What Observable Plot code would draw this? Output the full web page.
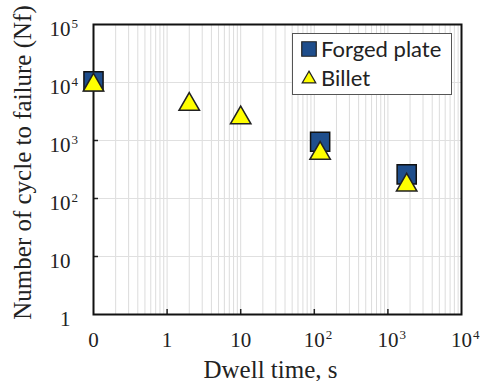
<!DOCTYPE html>
<html>
<head>
<meta charset="utf-8">
<script src="https://cdn.jsdelivr.net/npm/d3@7"></script>
<script src="https://cdn.jsdelivr.net/npm/@observablehq/plot@0.6"></script>
<style>
  html, body { margin: 0; padding: 0; background: white; }
  #wrap { position: relative; width: 481px; height: 381px; }
  #legend { position: absolute; left: 292px; top: 33px; width: 158px; height: 60px;
    border: 1.5px solid #555; background: white; font-family: Lato, "Open Sans", sans-serif; }
</style>
</head>
<body>
<div id="wrap"></div>
<script>
// Dwell time "0" is placed at 0.1 on the log axis (labelled "0")
const forgedDwell = [0.1, 120, 1800];
const forgedNf = [10500, 950, 260];
const billetDwell = [0.1, 2, 10, 120, 1800];
const billetNf = [9000, 4200, 2450, 600, 170];

const seriesNames = ["Forged plate", "Billet"];
const xTickValues = [0.1, 1, 10, 100, 1000, 10000];
const xTickLabels = ["0", "1", "10", "10^2", "10^3", "10^4"];
const yTickValues = [1, 10, 100, 1000, 10000, 100000];
const yTickLabels = ["1", "10", "10^2", "10^3", "10^4", "10^5"];
const xTitle = "Dwell time, s";
const yTitle = "Number of cycle to failure (Nf)";

const forged = forgedDwell.map((d, i) => ({dwell: d, nf: forgedNf[i]}));
const billet = billetDwell.map((d, i) => ({dwell: d, nf: billetNf[i]}));

// grid positions: every 1..9 multiple within each decade
const xGrid = xTickValues.slice(0, -1).flatMap(d => d3.range(1, 10).map(k => k * d)).concat([10000]);
const yGrid = yTickValues.slice(1, -1);
const xInner = xTickValues.slice(1, -1);
const yInner = yTickValues.slice(1, -1);

const chart = Plot.plot({
  width: 481, height: 381,
  marginLeft: 93, marginRight: 20, marginTop: 24, marginBottom: 67,
  style: {fontFamily: "'Liberation Serif', 'Times New Roman', serif", fontSize: "21px", color: "#222", background: "white", overflow: "visible"},
  x: {type: "log", domain: [0.1, 10000]},
  y: {type: "log", domain: [1, 100000]},
  marks: [
    Plot.ruleX(xGrid, {stroke: "#dcdcdc", strokeWidth: 1}),
    Plot.ruleY(yGrid, {stroke: "#e0e0e0", strokeWidth: 1}),
    Plot.ruleX(xInner, {stroke: "#222", strokeWidth: 1.5, insetTop: 285}),
    Plot.ruleY(yInner, {stroke: "#222", strokeWidth: 1.5, insetRight: 363}),
    Plot.frame({stroke: "#111", strokeWidth: 2}),
    Plot.axisX({ticks: xTickValues, tickFormat: d => xTickLabels[xTickValues.indexOf(d)], tickSize: 0, tickPadding: 18, label: null}),
    Plot.axisY({ticks: yTickValues, tickFormat: d => yTickLabels[yTickValues.indexOf(d)], tickSize: 0, tickPadding: 23, dy: 5, label: null}),
    Plot.dot(forged, {x: "dwell", y: "nf", symbol: "square", r: 10.8, fill: "#1f4e8c", stroke: "#111", strokeWidth: 1.5}),
    Plot.dot(billet, {x: "dwell", y: "nf", symbol: "triangle", r: 7.6, fill: "#ffff00", stroke: "#222", strokeWidth: 1.5}),
    Plot.text([xTitle], {text: d => d, frameAnchor: "bottom", textAnchor: "middle", dx: -7, dy: 55, lineAnchor: "middle", fontSize: 25}),
    Plot.text([yTitle], {text: d => d, frameAnchor: "left", textAnchor: "middle", dx: -71, dy: -7, rotate: -90, lineAnchor: "middle", fontSize: 25})
  ]
});
document.getElementById("wrap").appendChild(chart);

// superscripts for "10^n" labels, kept inside the same text element
d3.select(chart).selectAll('g[aria-label$="tick label"]').each(function() {
  const isY = this.getAttribute("aria-label").startsWith("y");
  d3.select(this).selectAll("text").each(function() {
    const t = this.textContent;
    if (!t.includes("^")) return;
    const [base, exp] = t.split("^");
    this.textContent = base;
    const tsp = d3.select(this).append("tspan").attr("font-size", 13).attr("dx", 1).attr("dy", -8).text(exp);
    const supW = tsp.node().getComputedTextLength() + 1;
    const shift = isY ? supW : supW / 2;
    const tr = this.getAttribute("transform");
    this.setAttribute("transform", `translate(${shift},0)` + (tr ? " " + tr : ""));
  });
});

// legend
const legend = d3.select("#wrap").append("div").attr("id", "legend");
const lsvg = legend.append("svg").attr("width", 158).attr("height", 60);
const sym = [d3.symbolSquare, d3.symbolTriangle];
const fills = ["#1f4e8c", "#ffff00"];
const sizes = [210, 80];
seriesNames.forEach((name, i) => {
  const cy = i === 0 ? 15 : 44;
  lsvg.append("path").attr("d", d3.symbol(sym[i], sizes[i])())
    .attr("transform", `translate(16,${cy + (i === 1 ? 1 : 0)})`)
    .attr("fill", fills[i]).attr("stroke", "#222").attr("stroke-width", 1.2);
  lsvg.append("text").attr("x", 28).attr("y", cy + 8)
    .attr("font-size", 22).attr("fill", "#222").text(name);
});
</script>
</body>
</html>
